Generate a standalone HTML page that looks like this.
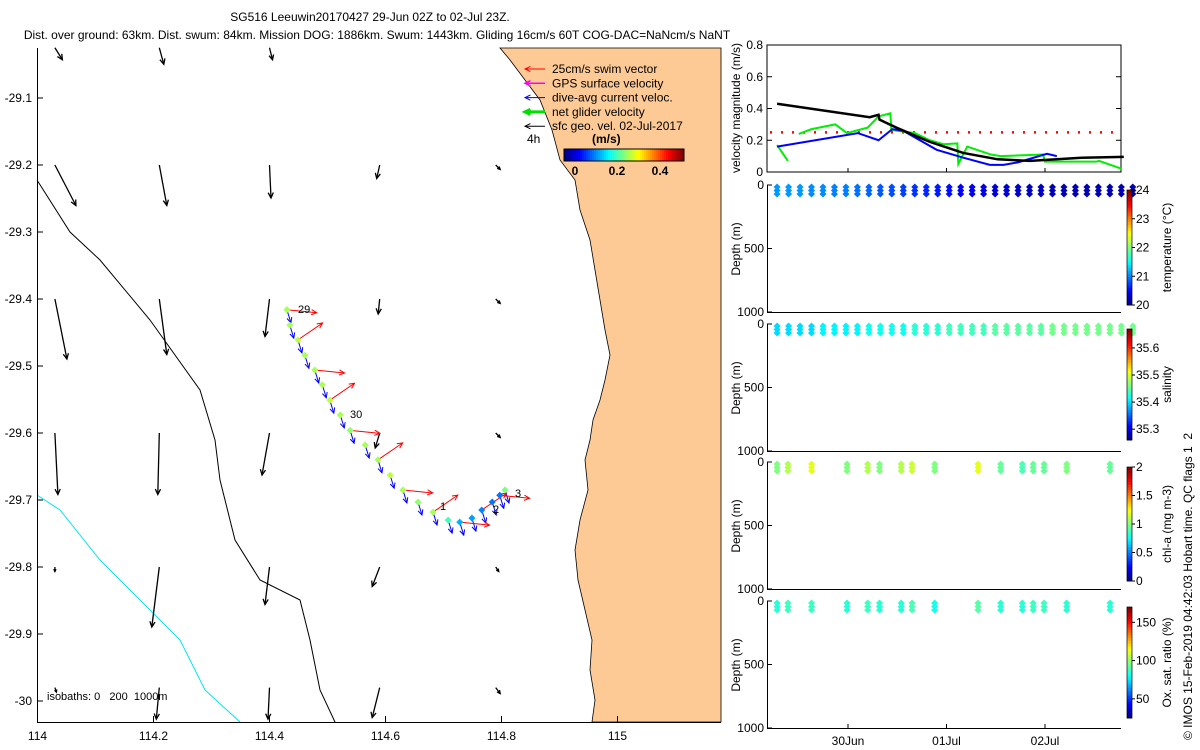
<!DOCTYPE html>
<html><head><meta charset="utf-8"><style>
body{margin:0;background:#fff}
svg{display:block;font-family:"Liberation Sans",sans-serif}
text{fill:#000;white-space:pre}
</style></head><body>
<svg id="c" width="1200" height="750" viewBox="0 0 1200 750">
<text x="370" y="21" font-size="12" text-anchor="middle">SG516 Leeuwin20170427 29-Jun 02Z to 02-Jul 23Z.</text>
<text x="377" y="39" font-size="12" text-anchor="middle">Dist. over ground: 63km. Dist. swum: 84km. Mission DOG: 1886km. Swum: 1443km. Gliding 16cm/s 60T COG-DAC=NaNcm/s NaNT</text>
<text transform="translate(1192,740) rotate(-90)" font-size="12">© IMOS 15-Feb-2019 04:42:03 Hobart time. QC flags 1  2</text>
</svg>
<script>
// ---- map data ----
const coastX=[500,510,525,540,552,560,575,580,590,595,600,605,610,605,600,593,590,585,588,580,575,578,585,592,590,595,592];
const coastY=[48,60,80,100,130,160,180,210,240,270,300,330,355,380,400,420,440,460,490,520,550,580,610,640,670,700,722];
const iso200X=[37,70,100,150,200,215,220,235,260,300,310,320,335];
const iso200Y=[180,232,260,320,390,440,480,540,580,600,640,690,722];
const iso1000X=[37,60,100,140,180,205,240];
const iso1000Y=[495,510,560,600,640,690,722];
const qLon=[114.03,114.21,114.40,114.59,114.79];
const qLat=[-29.025,-29.2,-29.4,-29.6,-29.8,-29.98];
const qU=[[0.05,0.03,0.02,0,0],[0.14,0.05,0.01,-0.02,0.03],[0.08,0.05,-0.03,-0.01,0.03],[0.02,-0.01,-0.05,-0.03,0.03],[0,-0.05,-0.03,-0.05,0.02],[0.01,-0.02,-0.01,-0.05,0.03]];
const qV=[[-0.08,-0.11,-0.08,0,0],[-0.27,-0.27,-0.22,-0.09,-0.03],[-0.4,-0.37,-0.25,-0.1,-0.03],[-0.41,-0.41,-0.28,-0.1,-0.03],[-0.03,-0.4,-0.25,-0.13,-0.03],[-0.03,-0.21,-0.21,-0.2,-0.04]];
const trLon=[114.430,114.435,114.449,114.461,114.478,114.491,114.504,114.522,114.539,114.565,114.587,114.608,114.630,114.656,114.682,114.708,114.728,114.749,114.766,114.784,114.797,114.806];
const trLat=[-29.416,-29.439,-29.461,-29.484,-29.506,-29.528,-29.551,-29.573,-29.596,-29.618,-29.640,-29.663,-29.685,-29.703,-29.718,-29.730,-29.733,-29.727,-29.715,-29.703,-29.693,-29.685];
const trVal=[0.27,0.27,0.28,0.27,0.27,0.27,0.28,0.27,0.26,0.27,0.27,0.28,0.27,0.26,0.27,0.22,0.15,0.14,0.13,0.12,0.12,0.25];
const mapXTicks=[114,114.2,114.4,114.6,114.8,115];
const mapYTicks=[-29.1,-29.2,-29.3,-29.4,-29.5,-29.6,-29.7,-29.8,-29.9,-30];
// ---- velocity panel ----
const blkT=[0.28,1.22,1.31,1.32,1.49,1.83,2.17,2.52,2.85,3.37,3.80];
const blkV=[0.43,0.345,0.36,0.33,0.28,0.19,0.12,0.08,0.07,0.09,0.095];
const bluT=[0.28,1.10,1.31,1.45,1.56,1.90,2.17,2.44,2.58,2.72,3.02,3.12];
const bluV=[0.16,0.245,0.2,0.27,0.26,0.14,0.09,0.045,0.045,0.06,0.115,0.1];
const gr1T=[0.28,0.39];const gr1V=[0.17,0.07];
const gr2T=[0.5,0.63,0.87,0.99,1.20,1.31,1.43,1.44,1.68,1.83,1.97,2.11,2.12,2.21,2.45,2.55,2.98,3.0,3.52,3.55,3.78];
const gr2V=[0.24,0.27,0.3,0.245,0.28,0.35,0.37,0.265,0.245,0.2,0.175,0.18,0.05,0.16,0.11,0.1,0.11,0.065,0.065,0.07,0.02];
const velTicks=[0,0.2,0.4,0.6,0.8];
// ---- profile panels ----
const prof1T=[];for(let i=0;i<32;i++)prof1T.push(0.28+i*0.1165);
const tempVals=[21.1,21.1,21.1,21.05,21.05,21.0,21.0,20.95,20.9,20.85,20.8,20.75,20.7,20.65,20.6,20.55,20.5,20.45,20.4,20.35,20.3,20.3,20.25,20.25,20.2,20.2,20.2,20.2,20.2,20.2,20.2,20.2];
const salVals=[35.40,35.40,35.40,35.40,35.41,35.41,35.41,35.41,35.42,35.42,35.42,35.42,35.43,35.43,35.43,35.44,35.44,35.44,35.44,35.45,35.45,35.45,35.45,35.45,35.46,35.46,35.46,35.46,35.46,35.46,35.46,35.46];
const prof2T=[0.28,0.39,0.63,0.99,1.20,1.32,1.54,1.65,1.88,2.32,2.55,2.77,2.88,2.99,3.22,3.66];
const chlVals=[1.0,1.1,1.2,1.0,1.1,1.0,1.1,1.15,1.0,1.2,0.95,0.9,0.95,0.95,1.0,0.95];
const oxVals=[85,88,88,85,88,85,85,90,82,92,85,85,88,88,85,85];
const dateTicks=[1,2,3];const dateLabels=['30Jun','01Jul','02Jul'];

const svg=document.getElementById('c');const NS='http://www.w3.org/2000/svg';
function el(tag,attrs,parent){const e=document.createElementNS(NS,tag);for(const k in attrs)e.setAttribute(k,attrs[k]);(parent||svg).appendChild(e);return e;}
function txt(x,y,s,size,anchor,parent,extra){const t=el('text',Object.assign({x:x,y:y,'font-size':size||12,'text-anchor':anchor||'start'},extra||{}),parent);t.textContent=s;return t;}
function jet(v){v=Math.max(0,Math.min(1,v));const r=Math.max(0,Math.min(1,1.5-Math.abs(4*v-3))),g=Math.max(0,Math.min(1,1.5-Math.abs(4*v-2))),b=Math.max(0,Math.min(1,1.5-Math.abs(4*v-1)));return `rgb(${r*255|0},${g*255|0},${b*255|0})`;}
function arrow(x1,y1,x2,y2,col,w,g){const a=Math.atan2(y2-y1,x2-x1),L=Math.hypot(x2-x1,y2-y1),h=Math.min(6,L*0.35+1);
 el('line',{x1,y1,x2,y2,stroke:col,'stroke-width':w||1},g);
 el('polyline',{points:`${x2-h*Math.cos(a-0.45)},${y2-h*Math.sin(a-0.45)} ${x2},${y2} ${x2-h*Math.cos(a+0.45)},${y2-h*Math.sin(a+0.45)}`,fill:'none',stroke:col,'stroke-width':w||1},g);}

// ---- MAP ----
const mx=lon=>37.5+(lon-114)*580, my=lat=>98-(lat+29.1)*670;
const map=el('g',{});

let lp='M721,48 ';coastX.forEach((x,i)=>lp+=`L${x},${coastY[i]} `);lp+='L721,722 Z';
const land=el('path',{d:lp,fill:'#fdca96',stroke:'#000','stroke-width':0.8},map);

const i2=el('polyline',{points:iso200X.map((x,i)=>x+','+iso200Y[i]).join(' '),fill:'none',stroke:'#000','stroke-width':1},map);

const i1=el('polyline',{points:iso1000X.map((x,i)=>x+','+iso1000Y[i]).join(' '),fill:'none',stroke:'#00e5ee','stroke-width':1},map);

const qg=el('g',{},map);
qLat.forEach((la,r)=>qLon.forEach((lo,c)=>{const u=qU[r][c],v=qV[r][c];if(!u&&!v)return;const x=mx(lo),y=my(la);arrow(x,y,x+u*150,y-v*150,'#000',1.3,qg);}));
// track
const tg=el('g',{},map);
trLon.forEach((lo,i)=>{const x=mx(lo),y=my(trLat[i]);arrow(x,y,x+4,y+13,'#0000ff',1,tg);});
trLon.forEach((lo,i)=>{if(i%2)return;const x=mx(lo),y=my(trLat[i]);const ang=(i%4?-0.6:0.1);arrow(x,y,x+30*Math.cos(ang),y+30*Math.sin(ang),'#ff0000',1,tg);});
trLon.forEach((lo,i)=>{const x=mx(lo),y=my(trLat[i]);const d=el('rect',{x:x-2.5,y:y-2.5,width:5,height:5,fill:jet(trVal[i]/0.5),transform:`rotate(45 ${x} ${y})`},tg);});
[['29',298,313],['30',350,418],['1',440,510],['2',493,513],['3',515,497]].forEach(a=>{const t=txt(a[1],a[2],a[0],11,'start',tg);});
// axes
const ax=el('g',{},map);
el('line',{x1:37.5,y1:48,x2:37.5,y2:722.5,stroke:'#000'},ax);el('line',{x1:37,y1:722.5,x2:721,y2:722.5,stroke:'#000'},ax);
mapXTicks.forEach(t=>{const x=mx(t);el('line',{x1:x,y1:722,x2:x,y2:716,stroke:'#000'},ax);txt(x,740,String(t),12,'middle',ax);});
mapYTicks.forEach(t=>{const y=my(t);el('line',{x1:37,y1:y,x2:43,y2:y,stroke:'#000'},ax);txt(32,y+4,String(t),12,'end',ax);});
const ib=txt(47,700,'isobaths: 0   200  1000m',11,'start',map);
// legend
const lg=el('g',{},map);
[['25cm/s swim vector','#ff0000',1],['GPS surface velocity','#ff00ff',1.5],['dive-avg current veloc.','#0000ff',1],['net glider velocity','#00e000',3],['sfc geo. vel. 02-Jul-2017','#000',1]].forEach((r,i)=>{const y=69+i*14.3;arrow(545,y,525,y,r[1],r[2],lg);txt(552,y+4,r[0],12,'start',lg);});
txt(527,143,'4h',12,'start',lg);txt(592,143,'(m/s)',12,'start',lg,{'font-weight':'bold'});
for(let i=0;i<60;i++){el('rect',{x:564+i*2,y:149,width:2.2,height:12,fill:jet(i/59)},lg);}
el('rect',{x:564,y:149,width:120,height:12,fill:'none',stroke:'#000'},lg);
[[0,575],[0.2,617],[0.4,660]].forEach(a=>{txt(a[1],175,String(a[0]),12,'middle',lg,{'font-weight':'bold'});});

// ---- VELOCITY PANEL ----
const px=t=>749.5+t*98.5;
const vp=el('g',{});
const vy=v=>172-v*158.75;
el('rect',{x:767,y:45,width:354,height:127,fill:'none',stroke:'#000'},vp);
velTicks.forEach(t=>{const y=vy(t);el('line',{x1:767,y1:y,x2:772,y2:y,stroke:'#000'},vp);el('line',{x1:1121,y1:y,x2:1116,y2:y,stroke:'#000'},vp);txt(763,y+4,String(t),12,'end',vp);});
dateTicks.forEach(t=>{el('line',{x1:px(t),y1:172,x2:px(t),y2:168,stroke:'#000'},vp);});
txt(0,0,'velocity magnitude (m/s)',12,'middle',vp,{transform:'translate(740,108) rotate(-90)'});
const ref=el('line',{x1:770,y1:vy(0.25),x2:1121,y2:vy(0.25),stroke:'#ff0000','stroke-width':2.5,'stroke-dasharray':'2 9'},vp);
function line(T,V,col,w,name){const p=el('polyline',{points:T.map((t,i)=>px(t)+','+vy(V[i])).join(' '),fill:'none',stroke:col,'stroke-width':w},vp);}
line(gr1T,gr1V,'#00ee00',2,'net-glider-speed-a');line(gr2T,gr2V,'#00ee00',2,'net-glider-speed-b');
line(bluT,bluV,'#0000ff',2,'dive-avg-current-speed');line(blkT,blkV,'#000',2.5,'geostrophic-speed');

// ---- PROFILE PANELS ----
const panels=[{y:185,T:prof1T,V:tempVals,lo:20,hi:24,ticks:[20,21,22,23,24],cbTop:190,cbBot:305,label:'temperature (°C)',name:'temperature-panel'},
{y:324,T:prof1T,V:salVals,lo:35.26,hi:35.67,ticks:[35.3,35.4,35.5,35.6],cbTop:329,cbBot:440,label:'salinity',name:'salinity-panel'},
{y:462,T:prof2T,V:chlVals,lo:0,hi:2,ticks:[0,0.5,1,1.5,2],cbTop:467,cbBot:581,label:'chl-a (mg m-3)',name:'chlorophyll-panel'},
{y:601,T:prof2T,V:oxVals,lo:25,hi:170,ticks:[50,100,150],cbTop:607,cbBot:718,label:'Ox. sat. ratio (%)',name:'oxygen-panel'}];
panels.forEach(P=>{const g=el('g',{});
 const h=127;el('line',{x1:767.5,y1:P.y,x2:767.5,y2:P.y+h,stroke:'#000'},g);el('line',{x1:767,y1:P.y+h+0.5,x2:1121,y2:P.y+h+0.5,stroke:'#000'},g);
 [[0,'0'],[500,'500'],[1000,'1000']].forEach(d=>{const y=P.y+d[0]/1000*h;el('line',{x1:767,y1:y,x2:772,y2:y,stroke:'#000'},g);txt(764,y+4,d[1],12,'end',g);});
 txt(0,0,'Depth (m)',12,'middle',g,{transform:`translate(740,${P.y+64}) rotate(-90)`});
 P.T.forEach((t,i)=>{const x=px(t),c=jet((P.V[i]-P.lo)/(P.hi-P.lo));for(let k=0;k<3;k++){const y=P.y+2+k*3.5;const d=el('rect',{x:x-2.5,y:y-2.5,width:5,height:5,fill:c,transform:`rotate(45 ${x} ${y})`},g);}});
 const n=40,ch=(P.cbBot-P.cbTop)/n;for(let i=0;i<n;i++)el('rect',{x:1127,y:P.cbBot-(i+1)*ch,width:5,height:ch+0.5,fill:jet((i+0.5)/n)},g);
 el('rect',{x:1127,y:P.cbTop,width:5,height:P.cbBot-P.cbTop,fill:'none',stroke:'#000','stroke-width':0.7},g);
 P.ticks.forEach(t=>{const y=P.cbBot-(t-P.lo)/(P.hi-P.lo)*(P.cbBot-P.cbTop);el('line',{x1:1132,y1:y,x2:1135,y2:y,stroke:'#000'},g);txt(1136,y+4,String(t),12,'start',g);});
 txt(0,0,P.label,12,'middle',g,{transform:`translate(1171,${(P.cbTop+P.cbBot)/2}) rotate(-90)`});
});
dateTicks.forEach((t,i)=>{const x=px(t);el('line',{x1:x,y1:728,x2:x,y2:724,stroke:'#000'});const l=txt(x,745,dateLabels[i],12,'middle');});
</script>
</body></html>
